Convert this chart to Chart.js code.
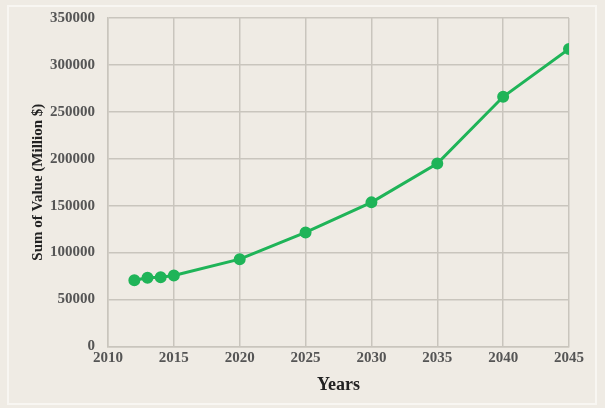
<!DOCTYPE html>
<html>
<head>
<meta charset="utf-8">
<script src="https://cdn.jsdelivr.net/npm/chart.js@4/dist/chart.umd.min.js"></script>
<style>
  html, body { margin: 0; padding: 0; background: #f1eee8; }
  #wrap { width: 605px; height: 408px; }
</style>
</head>
<body>
<div id="wrap"><canvas id="myChart"></canvas></div>
<script>
// Datos
const years = [2012, 2013, 2014, 2015, 2020, 2025, 2030, 2035, 2040, 2045];
const values = [70400, 73200, 73600, 75500, 93000, 121500, 153500, 195000, 266000, 317000];

// Fondo y marco
const fondo = {
    id: "fondo",
    beforeDraw(chart) {
        const ctx = chart.ctx;
        ctx.save();
        ctx.fillStyle = "#efebe4";
        ctx.fillRect(0, 0, chart.width, chart.height);
        ctx.strokeStyle = "#f8f6f2";
        ctx.lineWidth = 2;
        ctx.strokeRect(8, 6, chart.width - 17, chart.height - 10);
        ctx.restore();
    }
};

const fuenteTicks = { family: "Liberation Serif", size: 15, weight: "bold" };

const ctx = document.getElementById("myChart").getContext("2d");
new Chart(ctx, {
    type: "line",
    data: {
        datasets: [{
            label: "Sum of Value",
            data: years.map((y, i) => ({ x: y, y: values[i] })),
            borderColor: "#1fb458",
            backgroundColor: "#1fb458",
            borderWidth: 3,
            pointRadius: 4.5,
            pointHoverRadius: 4.5,
            tension: 0
        }]
    },
    options: {
        responsive: true,
        maintainAspectRatio: false,
        animation: false,
        layout: { padding: { left: 8, right: 36, top: 4, bottom: 10 } },
        scales: {
            x: {
                type: "linear",
                min: 2010,
                max: 2045,
                ticks: { stepSize: 5, padding: 3, color: "#555", font: fuenteTicks, callback: v => String(v) },
                grid: { color: "#c9c5bd", lineWidth: 1.5, drawTicks: false },
                border: { color: "#c9c5bd", width: 1.5 },
                title: { display: true, text: "Years", color: "#222", padding: { top: 4, bottom: 2 }, font: { family: "Liberation Serif", size: 18, weight: "bold" } }
            },
            y: {
                min: 0,
                max: 350000,
                afterFit: scale => { scale.width = 100; scale.paddingTop = 18; },
                ticks: { stepSize: 50000, color: "#555", padding: 13, font: fuenteTicks, callback: v => String(v) },
                grid: { color: "#c9c5bd", lineWidth: 1.5, drawTicks: false },
                border: { color: "#c9c5bd", width: 1.5 },
                title: { display: true, text: "Sum of Value (Million $)", color: "#222", padding: { top: 21, bottom: 0 }, font: { family: "Liberation Serif", size: 15, weight: "bold" } }
            }
        },
        plugins: {
            legend: { display: false },
            tooltip: { enabled: false }
        }
    },
    plugins: [fondo]
});
</script>
</body>
</html>
